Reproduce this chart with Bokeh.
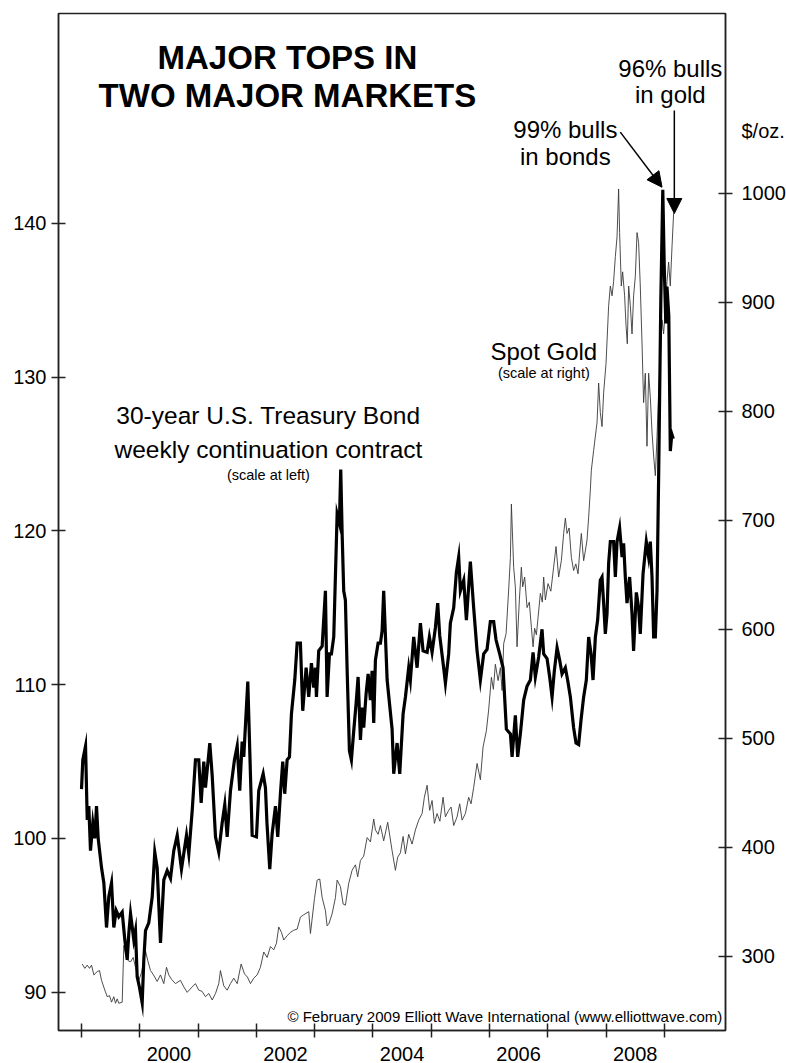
from bokeh.plotting import figure
from bokeh.models import (Range1d, LinearAxis, FixedTicker, Label, Arrow, NormalHead,
                          CustomJSTickFormatter, ColumnDataSource)
from bokeh.embed import file_html
from bokeh.resources import INLINE

# ---------------- data ----------------
bond_year = [1999.000, 1999.022, 1999.069, 1999.098, 1999.125, 1999.154, 1999.194, 1999.228, 1999.257, 1999.286,
             1999.343, 1999.383, 1999.429, 1999.468, 1999.515, 1999.554, 1999.595, 1999.640, 1999.698, 1999.743,
             1999.784, 1999.811, 1999.841, 1999.897, 1999.926, 1999.955, 1999.995, 2000.041, 2000.069, 2000.098,
             2000.154, 2000.213, 2000.257, 2000.298, 2000.355, 2000.412, 2000.470, 2000.527, 2000.583, 2000.642,
             2000.715, 2000.801, 2000.841, 2000.899, 2000.955, 2001.012, 2001.053, 2001.098, 2001.127, 2001.201,
             2001.242, 2001.299, 2001.355, 2001.413, 2001.458, 2001.499, 2001.556, 2001.624, 2001.671, 2001.715,
             2001.756, 2001.784, 2001.853, 2001.899, 2001.928, 2002.002, 2002.041, 2002.117, 2002.156, 2002.182,
             2002.230, 2002.271, 2002.328, 2002.367, 2002.413, 2002.453, 2002.487, 2002.528, 2002.568, 2002.602,
             2002.659, 2002.700, 2002.756, 2002.796, 2002.854, 2002.899, 2002.945, 2002.985, 2003.014, 2003.031,
             2003.070, 2003.129, 2003.185, 2003.214, 2003.254, 2003.288, 2003.328, 2003.386, 2003.425, 2003.448,
             2003.472, 2003.499, 2003.528, 2003.558, 2003.597, 2003.631, 2003.671, 2003.712, 2003.746, 2003.786,
             2003.815, 2003.842, 2003.883, 2003.918, 2003.957, 2003.986, 2004.014, 2004.043, 2004.089, 2004.129,
             2004.158, 2004.185, 2004.244, 2004.329, 2004.357, 2004.415, 2004.460, 2004.518, 2004.558, 2004.614,
             2004.643, 2004.700, 2004.758, 2004.815, 2004.861, 2004.930, 2004.969, 2005.015, 2005.072, 2005.112,
             2005.146, 2005.214, 2005.244, 2005.300, 2005.329, 2005.386, 2005.432, 2005.472, 2005.501, 2005.558,
             2005.604, 2005.672, 2005.729, 2005.787, 2005.844, 2005.901, 2005.959, 2006.015, 2006.072, 2006.113,
             2006.175, 2006.233, 2006.290, 2006.359, 2006.388, 2006.444, 2006.484, 2006.530, 2006.587, 2006.645,
             2006.702, 2006.748, 2006.787, 2006.844, 2006.902, 2006.930, 2006.988, 2007.033, 2007.074, 2007.113,
             2007.160, 2007.204, 2007.245, 2007.302, 2007.341, 2007.388, 2007.444, 2007.485, 2007.530, 2007.571,
             2007.616, 2007.662, 2007.702, 2007.743, 2007.777, 2007.817, 2007.856, 2007.902, 2007.931, 2007.959,
             2007.988, 2008.017, 2008.045, 2008.074, 2008.130, 2008.160, 2008.189, 2008.233, 2008.275, 2008.302,
             2008.331, 2008.360, 2008.405, 2008.446, 2008.473, 2008.520, 2008.559, 2008.588, 2008.635, 2008.691,
             2008.731, 2008.760, 2008.789, 2008.817, 2008.846, 2008.875, 2008.902, 2008.940, 2008.974, 2009.000,
             2009.026, 2009.046, 2009.077, 2009.103, 2009.129, 2009.154]
bond_price = [103.2, 105.1, 106.0, 101.2, 102.1, 99.2, 101.0, 100.0, 102.1, 100.0,
              98.1, 97.1, 94.2, 96.2, 97.1, 94.2, 95.3, 94.9, 95.2, 93.4,
              92.1, 93.8, 95.1, 93.4, 94.0, 91.0, 90.3, 89.3, 92.1, 94.0,
              94.5, 96.2, 99.1, 98.1, 93.2, 97.3, 97.9, 97.4, 99.2, 100.2,
              98.0, 100.2, 99.0, 101.8, 105.1, 105.1, 102.3, 105.0, 103.3, 106.2,
              104.1, 100.1, 99.1, 101.0, 102.2, 100.1, 103.1, 105.1, 106.0, 103.1,
              106.3, 105.3, 110.2, 104.1, 100.2, 100.1, 103.1, 104.2, 103.3, 101.0,
              98.0, 100.3, 102.1, 100.1, 102.9, 105.0, 102.9, 105.1, 105.3, 108.1,
              110.3, 112.7, 112.7, 108.3, 111.1, 109.2, 111.4, 109.8, 111.1, 109.2,
              112.2, 112.5, 116.1, 109.2, 112.0, 112.0, 113.1, 121.1, 120.5, 124.0,
              119.8, 116.1, 115.5, 110.9, 105.7, 105.1, 107.0, 108.8, 110.5, 106.4,
              108.5, 107.2, 109.4, 110.7, 109.0, 110.9, 107.5, 111.6, 112.7, 112.7,
              113.5, 116.1, 110.3, 107.1, 104.2, 106.2, 104.2, 108.1, 109.2, 111.1,
              110.3, 113.1, 111.1, 114.0, 112.2, 112.1, 113.1, 112.1, 113.7, 115.3,
              113.2, 111.1, 110.1, 112.0, 114.0, 115.0, 117.3, 118.3, 116.1, 116.8,
              114.2, 118.0, 115.0, 112.2, 110.3, 112.0, 112.3, 114.1, 114.1, 112.9,
              112.0, 111.1, 107.1, 106.8, 105.3, 108.0, 105.3, 106.8, 109.0, 109.9,
              110.3, 112.1, 110.5, 111.8, 113.6, 112.0, 111.7, 110.5, 109.2, 110.9,
              112.4, 111.6, 110.7, 111.1, 110.3, 109.2, 107.2, 106.2, 106.1, 107.7,
              109.2, 110.3, 113.1, 112.0, 110.3, 113.1, 114.2, 116.8, 117.0, 115.3,
              113.3, 114.6, 117.9, 119.3, 119.3, 117.0, 119.3, 120.2, 118.3, 119.2,
              117.0, 115.3, 117.0, 114.6, 112.2, 116.0, 115.0, 113.3, 117.2, 119.3,
              118.3, 119.3, 117.0, 113.1, 113.1, 116.1, 123.3, 135.0, 142.2, 137.0,
              133.5, 135.9, 134.0, 125.2, 126.3, 126.0]

gold_year = [1999.012, 1999.057, 1999.098, 1999.137, 1999.172, 1999.211, 1999.269, 1999.309, 1999.343, 1999.400,
             1999.441, 1999.480, 1999.515, 1999.554, 1999.583, 1999.612, 1999.640, 1999.698, 1999.726, 1999.767,
             1999.801, 1999.841, 1999.887, 1999.926, 1999.983, 2000.029, 2000.098, 2000.137, 2000.184, 2000.235,
             2000.298, 2000.355, 2000.412, 2000.458, 2000.497, 2000.544, 2000.612, 2000.698, 2000.755, 2000.813,
             2000.899, 2000.955, 2001.012, 2001.067, 2001.127, 2001.184, 2001.242, 2001.299, 2001.355, 2001.384,
             2001.441, 2001.499, 2001.556, 2001.612, 2001.671, 2001.739, 2001.796, 2001.847, 2001.899, 2001.955,
             2002.014, 2002.070, 2002.127, 2002.185, 2002.242, 2002.298, 2002.345, 2002.384, 2002.431, 2002.470,
             2002.528, 2002.585, 2002.642, 2002.700, 2002.756, 2002.808, 2002.899, 2002.928, 2002.997, 2003.043,
             2003.088, 2003.129, 2003.185, 2003.214, 2003.245, 2003.300, 2003.357, 2003.386, 2003.443, 2003.489,
             2003.528, 2003.585, 2003.643, 2003.700, 2003.739, 2003.786, 2003.842, 2003.901, 2003.957, 2004.014,
             2004.043, 2004.089, 2004.129, 2004.185, 2004.254, 2004.329, 2004.386, 2004.425, 2004.472, 2004.518,
             2004.558, 2004.614, 2004.672, 2004.729, 2004.786, 2004.844, 2004.883, 2004.930, 2004.974, 2005.015,
             2005.055, 2005.101, 2005.149, 2005.204, 2005.244, 2005.300, 2005.341, 2005.386, 2005.444, 2005.489,
             2005.530, 2005.587, 2005.643, 2005.684, 2005.729, 2005.787, 2005.844, 2005.890, 2005.947, 2005.986,
             2006.033, 2006.067, 2006.101, 2006.148, 2006.187, 2006.216, 2006.244, 2006.285, 2006.329, 2006.359,
             2006.376, 2006.415, 2006.444, 2006.473, 2006.513, 2006.547, 2006.570, 2006.604, 2006.645, 2006.684,
             2006.719, 2006.748, 2006.775, 2006.805, 2006.834, 2006.873, 2006.907, 2006.930, 2006.959, 2007.005,
             2007.053, 2007.101, 2007.142, 2007.187, 2007.233, 2007.273, 2007.302, 2007.331, 2007.367, 2007.405,
             2007.444, 2007.482, 2007.520, 2007.547, 2007.576, 2007.616, 2007.645, 2007.674, 2007.702, 2007.731,
             2007.748, 2007.787, 2007.846, 2007.873, 2007.902, 2007.931, 2007.959, 2008.000, 2008.045, 2008.074,
             2008.103, 2008.130, 2008.160, 2008.189, 2008.216, 2008.233, 2008.262, 2008.285, 2008.319, 2008.343,
             2008.365, 2008.388, 2008.417, 2008.446, 2008.473, 2008.503, 2008.532, 2008.559, 2008.588, 2008.618,
             2008.645, 2008.674, 2008.703, 2008.731, 2008.760, 2008.789, 2008.817, 2008.846, 2008.875, 2008.902,
             2008.931, 2008.961, 2008.988, 2009.017, 2009.046, 2009.074, 2009.103, 2009.132, 2009.160]
gold_price = [293, 289, 292, 289, 292, 283, 286, 287, 278, 269,
              263, 264, 258, 263, 257, 261, 257, 258, 310, 300,
              296, 295, 299, 290, 278, 285, 305, 296, 287, 283,
              277, 283, 275, 290, 283, 279, 275, 278, 272, 267,
              272, 275, 269, 268, 263, 266, 260, 266, 275, 287,
              273, 269, 275, 280, 275, 293, 284, 281, 275, 280,
              283, 290, 304, 299, 309, 306, 312, 327, 322, 315,
              319, 322, 324, 325, 336, 338, 341, 321, 353, 370,
              371, 354, 342, 328, 330, 339, 354, 370, 364, 348,
              347, 367, 379, 384, 373, 388, 392, 409, 405, 426,
              416, 412, 420, 406, 423, 397, 379, 391, 395, 410,
              394, 412, 403, 416, 425, 431, 446, 457, 434, 443,
              422, 431, 424, 446, 428, 434, 437, 420, 428, 440,
              425, 431, 446, 440, 455, 477, 462, 492, 507, 526,
              556, 545, 568, 553, 565, 544, 587, 596, 636, 666,
              715, 657, 639, 584, 627, 657, 639, 648, 620, 625,
              602, 584, 601, 595, 611, 633, 625, 648, 627, 642,
              635, 657, 676, 648, 663, 688, 702, 688, 693, 666,
              654, 660, 651, 670, 688, 663, 672, 682, 703, 728,
              746, 764, 790, 826, 799, 786, 817, 844, 897, 915,
              906, 919, 942, 960, 1004, 964, 915, 928, 906, 879,
              862, 915, 897, 871, 906, 924, 964, 955, 915, 862,
              808, 835, 768, 835, 813, 781, 759, 741, 777, 817,
              848, 884, 871, 893, 919, 937, 915, 951, 982]

year_boundaries = list(range(1999, 2010))
labelled_years = [2000, 2002, 2004, 2006, 2008]
bond_ticks = [90, 100, 110, 120, 130, 140]
gold_ticks = [300, 400, 500, 600, 700, 800, 900, 1000]
gold_unit_label = "$/oz."
gold_unit_position = 1057   # where the unit label sits on the right scale

FONT = "Liberation Sans"
INK = "#222222"

p = figure(frame_width=667, frame_height=1017,
           min_border_left=58, min_border_top=13, min_border_right=61, min_border_bottom=33,
           x_range=Range1d(1998.605, 2010.05), y_range=Range1d(87.5, 153.66),
           x_axis_type=None, y_axis_type=None,
           output_backend="svg", toolbar_location=None)
p.extra_y_ranges = {"gold": Range1d(232, 1165)}
p.outline_line_color = INK
p.outline_line_width = 1.5
p.background_fill_color = "white"
p.border_fill_color = "white"

# bottom axis: year boundaries as (minor) ticks, labels at mid-year of even years
xaxis = LinearAxis(ticker=FixedTicker(ticks=[y + 0.5 for y in labelled_years], minor_ticks=year_boundaries),
                   formatter=CustomJSTickFormatter(code="return String(Math.floor(tick));"))
xaxis.major_tick_line_color = None
xaxis.major_tick_out = 7
xaxis.major_tick_in = 0
xaxis.minor_tick_in = 7
xaxis.minor_tick_out = 7
xaxis.minor_tick_line_color = INK
xaxis.minor_tick_line_width = 1.5
xaxis.axis_line_color = INK
xaxis.axis_line_width = 1.5
xaxis.major_label_standoff = 9
xaxis.major_label_text_font = FONT
xaxis.major_label_text_font_size = "20px"
xaxis.major_label_text_color = "black"
p.add_layout(xaxis, "below")

def style_y(ax, standoff):
    ax.major_tick_in = 7
    ax.major_tick_out = 7
    ax.major_tick_line_color = INK
    ax.major_tick_line_width = 1.5
    ax.minor_tick_line_color = None
    ax.axis_line_color = INK
    ax.axis_line_width = 1.5
    ax.major_label_standoff = standoff
    ax.major_label_text_font = FONT
    ax.major_label_text_font_size = "20px"
    ax.major_label_text_color = "black"

yleft = LinearAxis(ticker=FixedTicker(ticks=bond_ticks))
style_y(yleft, 5)
p.add_layout(yleft, "left")

# right axis: tick marks as minor ticks, labels (incl. the unit) at the major positions
yright = LinearAxis(y_range_name="gold",
                    ticker=FixedTicker(ticks=gold_ticks + [gold_unit_position], minor_ticks=gold_ticks),
                    formatter=CustomJSTickFormatter(
                        args=dict(unit=gold_unit_label, upos=gold_unit_position),
                        code="return tick == upos ? unit : String(tick);"))
style_y(yright, 9)
yright.major_tick_line_color = None
yright.minor_tick_in = 7
yright.minor_tick_out = 7
yright.minor_tick_line_color = INK
yright.minor_tick_line_width = 1.5
p.add_layout(yright, "right")

# series
gold_src = ColumnDataSource(dict(x=gold_year, y=gold_price))
bond_src = ColumnDataSource(dict(x=bond_year, y=bond_price))
p.line("x", "y", source=gold_src, y_range_name="gold", line_color="#3a3a3a", line_width=0.9)
p.line("x", "y", source=bond_src, line_color="black", line_width=3.2, line_join="miter")

# texts
def lab(x, y, text, size, align="center", bold=False):
    p.add_layout(Label(x=x, y=y, text=text, text_font=FONT, text_font_size=size,
                       text_font_style="bold" if bold else "normal", text_color="black",
                       text_align=align, text_baseline="alphabetic"))

lab(2002.533, 150.81, "MAJOR TOPS IN", "33px", bold=True)
lab(2002.533, 148.34, "TWO MAJOR MARKETS", "33px", bold=True)
lab(2002.207, 127.51, "30-year U.S. Treasury Bond", "24.5px")
lab(2002.207, 125.30, "weekly continuation contract", "24.5px")
lab(2002.207, 123.64, "(scale at left)", "14.5px")
lab(2006.933, 131.67, "Spot Gold", "24px")
lab(2006.933, 130.28, "(scale at right)", "14.5px")
lab(2007.302, 146.11, "99% bulls", "24px")
lab(2007.302, 144.36, "in bonds", "24px")
lab(2009.103, 150.08, "96% bulls", "24px")
lab(2009.103, 148.39, "in gold", "24px")
lab(2009.995, 88.39, "\u00a9 February 2009 Elliott Wave International (www.elliottwave.com)", "15px", align="right")

# arrows
p.add_layout(Arrow(end=NormalHead(size=15, fill_color="black", line_color="black"),
                   x_start=2008.245, y_start=145.94, x_end=2008.961, y_end=142.36,
                   line_color="black", line_width=1.5))
p.add_layout(Arrow(end=NormalHead(size=15, fill_color="black", line_color="black"),
                   x_start=2009.172, y_start=147.35, x_end=2009.172, y_end=140.65,
                   line_color="black", line_width=1.5))

open("out.html", "w").write(file_html(p, INLINE))
